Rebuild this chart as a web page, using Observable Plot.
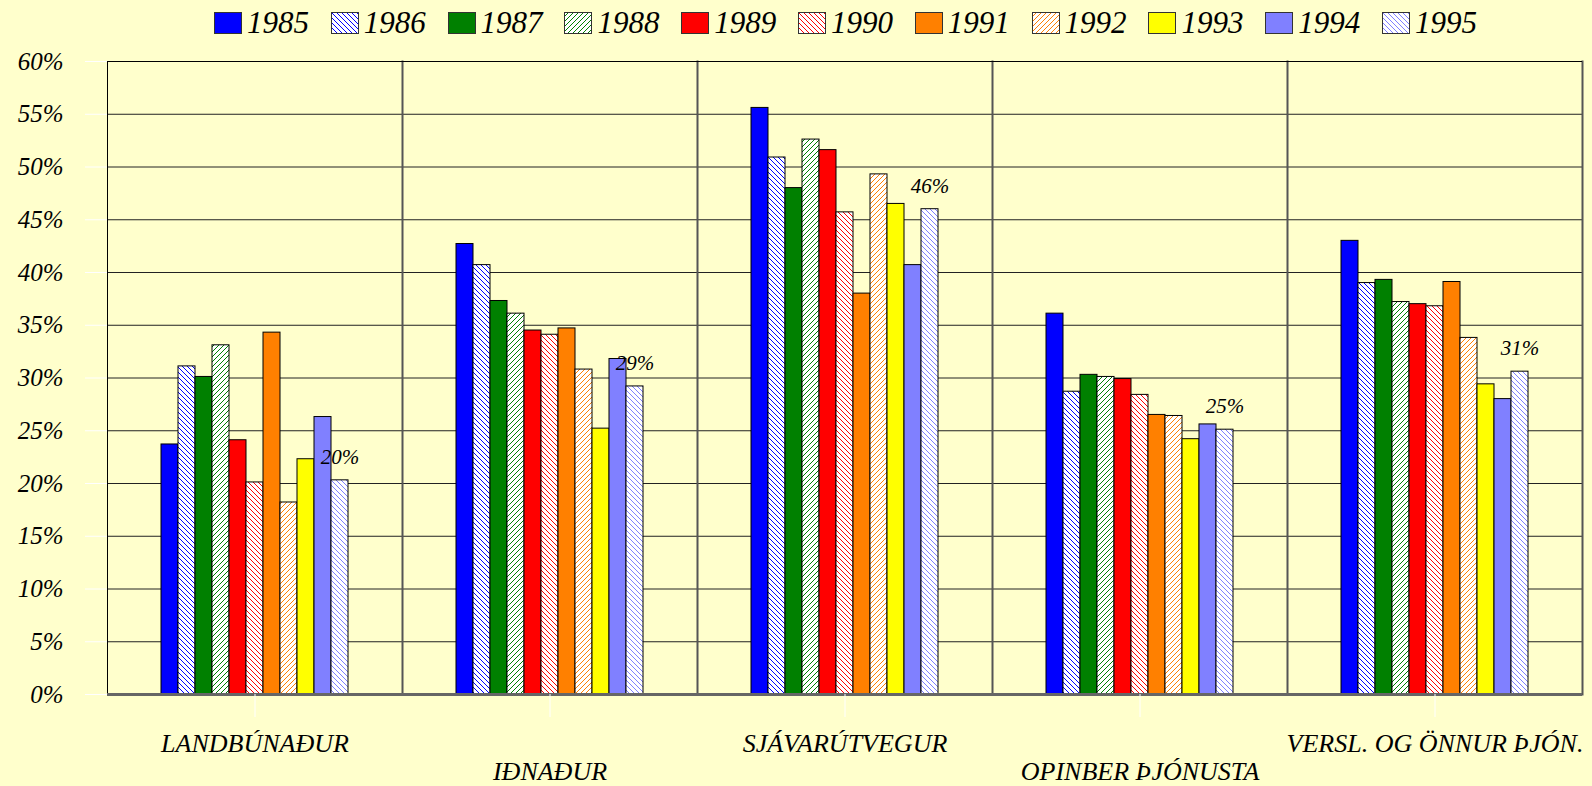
<!DOCTYPE html>
<html><head><meta charset="utf-8">
<script src="https://cdn.jsdelivr.net/npm/d3@7"></script>
<script src="https://cdn.jsdelivr.net/npm/@observablehq/plot@0.6"></script>
<style>
html,body{margin:0;padding:0;background:#FFFFCC;}
#chart{width:1592px;height:786px;position:relative;overflow:hidden;background:#FFFFCC;}
#legend{position:relative;height:44px;width:1592px;font-family:"Liberation Serif",serif;font-style:italic;}
.item{position:absolute;top:0;height:44px;}
.sw{position:absolute;top:12px;left:0;display:block;}
.lab{position:absolute;left:33px;top:7px;font-size:31px;line-height:31px;color:#000;white-space:nowrap;}
#chart svg.plotsvg{display:block;}
#chart svg.plotsvg text{font-family:"Liberation Serif","Times New Roman",serif !important;font-style:italic;}
</style></head><body>
<svg width="0" height="0" style="position:absolute"><defs id="defs"></defs></svg>
<div id="chart"><div id="legend"></div></div>
<script>
// ---- data ----
const years = ["1985","1986","1987","1988","1989","1990","1991","1992","1993","1994","1995"];
const categories = ["LANDBÚNAÐUR","IÐNAÐUR","SJÁVARÚTVEGUR","OPINBER ÞJÓNUSTA","VERSL. OG ÖNNUR ÞJÓN."];
const landbunadur = [23.7, 31.1, 30.1, 33.1, 24.1, 20.1, 34.3, 18.2, 22.3, 26.3, 20.3];
const idnadur     = [42.7, 40.7, 37.3, 36.1, 34.5, 34.1, 34.7, 30.8, 25.2, 31.8, 29.2];
const sjavarutvegur = [55.6, 50.9, 48.0, 52.6, 51.6, 45.7, 38.0, 49.3, 46.5, 40.7, 46.0];
const opinber     = [36.1, 28.7, 30.3, 30.1, 29.9, 28.4, 26.5, 26.4, 24.2, 25.6, 25.1];
const versl       = [43.0, 39.0, 39.3, 37.2, 37.0, 36.8, 39.1, 33.8, 29.4, 28.0, 30.6];
const yTicks = [0,5,10,15,20,25,30,35,40,45,50,55,60];
const labelYear = "1995";

// ---- styles ----
const seriesColors = ["#0000FF","#0000FF","#008000","#008000","#FF0000","#FF0000","#FF8000","#FF8000","#FFFF00","#8080FF","#8080FF"];
const seriesHatch  = [null,"back",null,"fwd",null,"back",null,"fwd",null,null,"back"];

const defs = d3.select("#defs");
seriesHatch.forEach((h, i) => {
  if (!h) return;
  const p = defs.append("pattern").attr("id", "hatch" + i)
    .attr("patternUnits", "userSpaceOnUse").attr("width", 5).attr("height", 5);
  p.append("rect").attr("width", 5).attr("height", 5).attr("fill", "white");
  p.append("path")
    .attr("d", h === "back" ? "M0,0L5,5M-1,4L1,6M4,-1L6,1" : "M0,5L5,0M-1,1L1,-1M4,6L6,4")
    .attr("stroke", seriesColors[i]).attr("stroke-width", 1).attr("fill", "none");
});
const fills = seriesColors.map((c, i) => seriesHatch[i] ? `url(#hatch${i})` : c);

// ---- legend ----
const legend = d3.select("#legend");
years.forEach((y, i) => {
  const it = legend.append("div").attr("class", "item").style("left", (214 + i * 116.8) + "px");
  const sv = it.append("svg").attr("class", "sw").attr("width", 28).attr("height", 22);
  sv.append("rect").attr("x", 0.5).attr("y", 0.5).attr("width", 27).attr("height", 21)
    .attr("fill", fills[i]).attr("stroke", "#333").attr("stroke-width", 1);
  it.append("span").attr("class", "lab").text(y);
});

// ---- chart ----
const seriesByCategory = [landbunadur, idnadur, sjavarutvegur, opinber, versl];
const data = categories.flatMap((c, ci) => years.map((y, yi) => ({category: c, year: y, value: seriesByCategory[ci][yi]})));
const labelData = data.filter(d => d.year === labelYear);
const font = "Liberation Serif, Times New Roman, serif";

const plot = Plot.plot({
  width: 1592, height: 742,
  marginTop: 17, marginBottom: 92, marginLeft: 107, marginRight: 10,
  style: {background: "transparent", fontFamily: font, fontStyle: "italic", color: "black", overflow: "visible"},
  fx: {domain: categories, padding: 0, label: null},
  x: {domain: years, paddingInner: 0, paddingOuter: 2.9, axis: null},
  y: {domain: [0, 60], label: null},
  color: {type: "ordinal", domain: years, range: fills},
  marks: [
    Plot.gridY(yTicks, {stroke: "#222", strokeOpacity: 1, strokeWidth: 1}),
    Plot.frame({anchor: "left", stroke: "black", strokeWidth: 1}),
    Plot.barY(data, {fx: "category", x: "year", y: "value", fill: "year", stroke: "black", strokeWidth: 1}),
    Plot.frame({anchor: "right", stroke: "#555", strokeWidth: 2}),
    Plot.ruleY([60], {stroke: "black", strokeWidth: 1}),
    Plot.ruleY([0], {stroke: "#666", strokeWidth: 3}),
    Plot.axisY(yTicks, {tickSize: 22, tickPadding: 22, stroke: "white", fill: "black", fontSize: 25, fontStyle: "italic", fontFamily: font, tickFormat: d => d + "%", label: null}),
    Plot.axisFx({anchor: "bottom", tickSize: 23, stroke: "white", tickFormat: () => "", label: null}),
    Plot.text(categories.filter((c, i) => i % 2 === 0), {fx: d => d, text: d => d, frameAnchor: "bottom", dy: 49, lineAnchor: "middle", fontSize: 26, fontStyle: "italic", fontFamily: font}),
    Plot.text(categories.filter((c, i) => i % 2 === 1), {fx: d => d, text: d => d, frameAnchor: "bottom", dy: 77, lineAnchor: "middle", fontSize: 26, fontStyle: "italic", fontFamily: font}),
    Plot.text(labelData, {fx: "category", x: "year", y: "value", text: d => Math.round(d.value) + "%", dy: -23, lineAnchor: "middle", fontSize: 21, fontStyle: "italic", fontFamily: font})
  ]
});
plot.classList.add("plotsvg");
document.getElementById("chart").appendChild(plot);
</script>
</body></html>
